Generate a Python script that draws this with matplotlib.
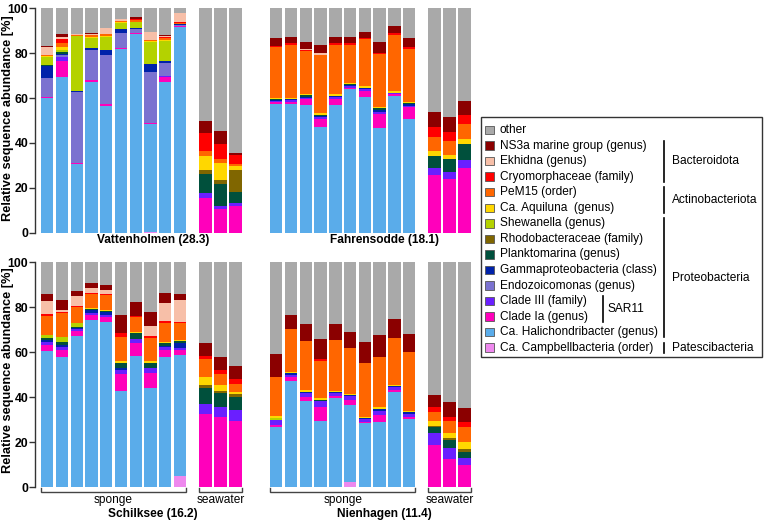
import matplotlib
matplotlib.use("Agg")
import matplotlib.pyplot as plt
from matplotlib.patches import Rectangle
from matplotlib.lines import Line2D
import numpy as np

plt.rcParams['font.family'] = ['Liberation Sans', 'DejaVu Sans']

W, H = 767, 525

SITES = ["Vattenholmen (28.3)", "Fahrensodde (18.1)", "Schilksee (16.2)", "Nienhagen (11.4)"]
N_SPONGE = 10
N_SEA = 3

# stacking order: bottom -> top
TAXA = ["Ca. Campbellbacteria (order)", "Ca. Halichondribacter (genus)", "Clade Ia (genus)",
        "Clade III (family)", "Endozoicomonas (genus)", "Gammaproteobacteria (class)",
        "Planktomarina (genus)", "Rhodobacteraceae (family)", "Shewanella (genus)",
        "Ca. Aquiluna  (genus)", "PeM15 (order)", "Cryomorphaceae (family)",
        "Ekhidna (genus)", "NS3a marine group (genus)", "other"]
COLORS = ["#EE88EE", "#5AACEA", "#FF00BB", "#6A1FFF", "#7B72D0", "#0022AA",
          "#00503C", "#806600", "#B4D200", "#FFD700", "#FF6600", "#FF0000",
          "#F7BFA8", "#8B0000", "#A9A9A9"]

# values per taxon, 52 bars: per site 10 sponge + 3 seawater (V, F, S, N)
campbell = [0, 0, 0, 0, 0, 0, 0, 0.5, 0, 0, 0, 0, 0,
            0, 0, 0, 0, 0, 0, 0, 0, 0, 0, 0, 0, 0,
            0, 0, 0, 0, 0, 0, 0, 0, 0, 5.2, 0, 0, 0,
            0, 0, 0, 0, 0, 2.5, 0, 0, 0, 0, 0, 0, 0]
halichondribacter = [60.0, 69.2, 30.5, 67.3, 56.5, 81.7, 88.4, 47.9, 67.2, 91.5, 0, 0, 0,
                     57.5, 57.5, 56.9, 46.9, 57.1, 64.1, 60.4, 46.8, 61.0, 50.7, 0, 0, 0,
                     60.7, 57.7, 67.3, 74.4, 73.6, 43.0, 58.4, 44.0, 58.1, 53.6, 0, 0, 0,
                     26.7, 47.4, 38.4, 29.3, 39.5, 34.1, 28.4, 29.2, 42.5, 30.2, 0, 0, 0]
clade_ia = [0.4, 7.5, 0.6, 0.7, 0.7, 0.5, 0.5, 0.6, 2.4, 0.5, 15.3, 10.6, 12.0,
            0.7, 0.9, 2.7, 3.8, 2.6, 0.6, 2.7, 6.1, 0.6, 5.2, 25.7, 23.9, 29.0,
            2.5, 3.4, 2.2, 2.0, 1.9, 7.4, 5.6, 7.0, 2.9, 2.2, 32.4, 31.4, 29.6,
            1.0, 1.5, 1.9, 6.2, 1.1, 2.2, 0.8, 2.9, 0.9, 1.2, 18.8, 12.6, 9.9]
clade_iii = [0, 1.5, 0, 0, 0, 0, 0, 0, 0.4, 0.2, 2.3, 1.4, 1.2,
             0.6, 0.6, 0.6, 1.0, 0.6, 0.7, 0.8, 1.0, 0.5, 0.7, 3.3, 3.3, 3.4,
             1.5, 1.2, 0.7, 0.9, 1.1, 1.7, 1.9, 2.2, 1.2, 0.8, 4.6, 4.5, 4.6,
             2.2, 1.2, 1.6, 2.8, 1.1, 1.6, 1.0, 2.0, 1.0, 1.4, 5.2, 5.0, 3.3]
endozoicomonas = [8.4, 0.8, 31.5, 13.6, 22.1, 6.7, 1.9, 22.8, 5.5, 0.5, 0, 0, 0,
                  0, 0, 0, 0, 0, 0, 0, 0, 0, 0, 0, 0, 0,
                  0, 0, 0, 0, 0, 0, 0, 0, 0, 0, 0, 0, 0,
                  0, 0, 0, 0, 0, 0, 0, 0, 0, 0, 0, 0, 0]
gammaproteo = [5.6, 0.5, 0.4, 0.8, 2.1, 1.8, 0.6, 3.2, 1.0, 0.3, 0, 0, 0,
               0.5, 0.4, 0.4, 0.4, 0.4, 0.4, 0.4, 0.7, 0.3, 0.6, 0, 0, 0,
               0.8, 0.9, 0.6, 1.5, 1.3, 1.1, 0, 0, 0.8, 2.5, 0, 0, 0,
               0, 0.6, 0.6, 0, 0.6, 0.6, 0.6, 0.6, 0.6, 0.6, 0, 0, 0]
planktomarina = [0.3, 0.9, 0.3, 0, 0, 0, 0, 0, 0, 0.2, 8.6, 9.7, 4.8,
                 0.3, 0.2, 0.6, 0.4, 0.3, 0.4, 0.4, 0.8, 0, 0.6, 5.2, 5.5, 7.1,
                 0.7, 1.6, 0.6, 0.3, 0.4, 2.0, 2.5, 2.2, 1.0, 0.7, 7.3, 5.9, 6.1,
                 0, 0, 0, 0.5, 0, 0, 0, 0, 0, 0, 2.7, 3.4, 2.4]
rhodobacteraceae = [0, 0, 0, 0, 0, 0, 0, 0, 0, 0, 1.7, 1.8, 9.8,
                    0, 0, 0, 0, 0, 0, 0, 0, 0, 0, 0, 0, 0,
                    0, 0, 0, 0, 0, 0, 0, 0, 0, 0, 1.2, 1.0, 1.0,
                    0, 0, 0, 0, 0, 0, 0, 0, 0, 0, 0.6, 1.1, 1.4]
shewanella = [3.8, 0.9, 24.2, 4.4, 5.8, 2.9, 2.4, 10.1, 8.8, 0, 0, 0, 0,
              0, 0, 0, 0, 0, 0, 0, 0, 0, 0, 0, 0, 0,
              1.5, 1.9, 1.5, 0, 0, 0, 0, 0, 0, 0, 0, 0, 0,
              1.0, 0, 0, 0, 0, 0, 0, 0, 0, 0, 0, 0, 0]
aquiluna = [0.2, 1.4, 0.2, 0.3, 0.3, 0.2, 0.2, 0.2, 0.6, 0, 6.4, 7.4, 2.0,
            0.6, 0.4, 0.6, 0.7, 0.6, 0.6, 0.6, 0.7, 0.6, 0.6, 2.2, 1.9, 2.3,
            0, 0, 0, 0.4, 0.5, 1.0, 0.7, 0.7, 0.7, 0.5, 3.7, 2.7, 1.2,
            0.8, 0.7, 0.7, 0.7, 0.6, 0.5, 0.6, 0.8, 0.6, 0.6, 2.2, 2.2, 3.0]
pem15 = [0.4, 1.9, 0.6, 0.8, 0.9, 0.5, 0.6, 0.5, 0.7, 0.4, 2.1, 1.9, 1.0,
         22.6, 23.8, 19.3, 26.0, 22.2, 16.9, 20.9, 23.6, 25.3, 23.5, 6.4, 6.3, 6.5,
         8.6, 10.8, 7.4, 6.3, 6.7, 10.8, 6.4, 10.3, 8.5, 7.4, 7.7, 4.9, 3.3,
         17.2, 18.8, 21.8, 16.8, 22.6, 20.3, 23.7, 22.6, 20.9, 26.0, 4.1, 5.2, 7.0]
cryomorphaceae = [0.3, 1.5, 0, 0.2, 0.3, 0.2, 0.7, 0, 0.5, 0.5, 7.9, 6.7, 3.7,
                  0.5, 0.6, 0.4, 0.2, 0.7, 0.9, 0.7, 0.6, 0.6, 0.7, 4.2, 4.1, 4.2,
                  0.6, 0.5, 0.4, 0.4, 0.4, 1.5, 0.8, 0.8, 0.7, 0.7, 1.5, 1.7, 2.3,
                  0, 0, 0, 0.6, 0, 0, 0, 0, 0, 0, 2.0, 1.9, 2.2]
ekhidna = [3.5, 1.2, 0.3, 0.6, 2.5, 0.6, 0, 3.7, 0.6, 3.7, 0, 0, 0,
           0, 0, 0.4, 0.6, 0, 0, 0, 0, 0, 0, 0, 0, 0,
           5.9, 1.0, 4.3, 2.2, 1.8, 0, 0, 4.4, 7.9, 9.6, 0, 0, 0,
           0, 0, 0, 0, 0, 0, 0, 0, 0, 0, 0, 0, 0]
ns3a = [0.3, 1.3, 0, 0.4, 0, 0, 0.7, 0, 0.6, 0, 5.6, 6.0, 1.2,
        3.6, 2.6, 3.2, 3.7, 2.7, 2.8, 2.6, 4.5, 3.2, 4.0, 6.6, 6.4, 6.3,
        2.9, 4.2, 2.2, 2.2, 2.2, 8.3, 5.9, 6.1, 4.4, 2.6, 5.6, 5.7, 5.7,
        10.2, 6.4, 7.6, 9.0, 7.1, 7.4, 9.6, 9.6, 8.2, 8.1, 5.4, 6.4, 6.2]
other = [16.8, 11.4, 11.4, 10.9, 8.8, 4.9, 4.0, 10.5, 11.7, 2.2, 50.1, 54.5, 64.3,
         13.1, 13.0, 14.9, 16.3, 12.8, 12.6, 10.5, 15.2, 7.9, 13.4, 46.4, 48.6, 41.2,
         14.3, 16.8, 12.8, 9.4, 10.1, 23.2, 17.8, 22.3, 13.8, 14.2, 36.0, 42.2, 46.2,
         40.9, 23.4, 27.4, 34.1, 27.4, 30.8, 35.3, 32.3, 25.3, 31.9, 59.0, 62.2, 64.6]

SERIES = [campbell, halichondribacter, clade_ia, clade_iii, endozoicomonas, gammaproteo,
          planktomarina, rhodobacteraceae, shewanella, aquiluna, pem15, cryomorphaceae,
          ekhidna, ns3a, other]

YTICKS = [0, 20, 40, 60, 80, 100]

FS = 8.6


def fx(px):
    return px / W


def fy(py):
    return 1 - py / H


fig = plt.figure(figsize=(W / 100, H / 100), dpi=100)

# panel geometry in pixels
pitch = 14.76
first_center = {0: 47.2, 1: 276.3, 2: 47.2, 3: 276.3}
ytop = {0: 8.3, 1: 8.3, 2: 262.3, 3: 262.3}
ybot = {0: 232.7, 1: 232.7, 2: 487.3, 3: 487.3}
ylabel_center = {0: 118, 2: 370}
xmin, xmax = -0.62, 13.27

positions = list(np.arange(N_SPONGE)) + [10.72 + 1.02 * i for i in range(N_SEA)]
n_per = N_SPONGE + N_SEA

for s in range(4):
    left_px = first_center[s] + xmin * pitch
    width_px = (xmax - xmin) * pitch
    ax = fig.add_axes([fx(left_px), fy(ybot[s]), fx(width_px), (ybot[s] - ytop[s]) / H])
    ax.set_xlim(xmin, xmax)
    ax.set_ylim(0, 100)
    bottom = np.zeros(n_per)
    for vals, col in zip(SERIES, COLORS):
        v = np.array(vals[s * n_per:(s + 1) * n_per], dtype=float)
        ax.bar(positions, v, width=0.84, bottom=bottom, color=col, linewidth=0)
        bottom += v
    for sp in ["top", "right", "bottom"]:
        ax.spines[sp].set_visible(False)
    ax.set_xticks([])
    if s in (0, 2):
        ax.spines["left"].set_position(("outward", 2))
        ax.spines["left"].set_color("#333333")
        ax.spines["left"].set_linewidth(1.0)
        ax.set_yticks(YTICKS)
        ax.set_yticklabels([str(t) for t in YTICKS], fontsize=FS + 0.2, fontweight="bold")
        ax.tick_params(axis="y", length=4, width=1.0, color="#333333", pad=1)
        fig.text(fx(8.5), fy(ylabel_center[s]), "Relative sequence abundance [%]", rotation=90,
                 ha="center", va="center", fontsize=9.2, fontweight="bold")
    else:
        ax.spines["left"].set_visible(False)
        ax.set_yticks([])
    # brackets for bottom row
    if s in (2, 3):
        sea_pos = positions[N_SPONGE:]
        for (a, b, lab) in [(positions[0] - 0.42, positions[N_SPONGE - 1] + 0.42, "sponge"),
                            (sea_pos[0] - 0.42, sea_pos[-1] + 0.42, "seawater")]:
            yl = -1.95
            yt = -0.2
            ax.plot([a, a, b, b], [yt, yl, yl, yt], color="#444444", lw=1.0, clip_on=False,
                    solid_joinstyle="miter")
            ax.text((a + b) / 2, -3.0, lab, ha="center", va="top", fontsize=FS)
    # site label
    lab_y = 240 if s < 2 else 514
    lab_x = 153 if s in (0, 2) else 384
    fig.text(fx(lab_x), fy(lab_y), SITES[s], ha="center", va="center", fontsize=FS, fontweight="bold")

# legend (manual)
fig.add_artist(Rectangle((fx(481), fy(357)), fx(762) - fx(481), fy(117) - fy(357),
                         transform=fig.transFigure, fill=False, edgecolor="#333333", lw=1.0))
row0, dy = 130.0, 15.55
sq = 8.5
for i, k in enumerate(range(len(TAXA) - 1, -1, -1)):
    yc = row0 + i * dy
    fig.add_artist(Rectangle((fx(485), fy(yc + sq / 2)), fx(sq), sq / H,
                             transform=fig.transFigure, facecolor=COLORS[k],
                             edgecolor="#555555", lw=0.6))
    fig.text(fx(500), fy(yc), TAXA[k], ha="left", va="center", fontsize=FS)


def vline(x, y0, y1):
    fig.add_artist(Line2D([fx(x), fx(x)], [fy(y0), fy(y1)], transform=fig.transFigure,
                          color="black", lw=1.2))


def rowy(name):
    idx = len(TAXA) - 1 - TAXA.index(name)
    return row0 + idx * dy


groups = [("Bacteroidota", "NS3a marine group (genus)", "Cryomorphaceae (family)", 664, 672),
          ("Actinobacteriota", "PeM15 (order)", "Ca. Aquiluna  (genus)", 664, 672),
          ("Proteobacteria", "Shewanella (genus)", "Ca. Halichondribacter (genus)", 664, 672),
          ("SAR11", "Clade III (family)", "Clade Ia (genus)", 603, 608),
          ("Patescibacteria", "Ca. Campbellbacteria (order)", "Ca. Campbellbacteria (order)", 664, 672)]
for name, t0, t1, lx, tx in groups:
    y0 = rowy(t0) - 5
    y1 = rowy(t1) + 5
    vline(lx, y0, y1)
    fig.text(fx(tx), fy((y0 + y1) / 2), name, ha="left", va="center", fontsize=FS)

fig.savefig("out.png", dpi=100)
